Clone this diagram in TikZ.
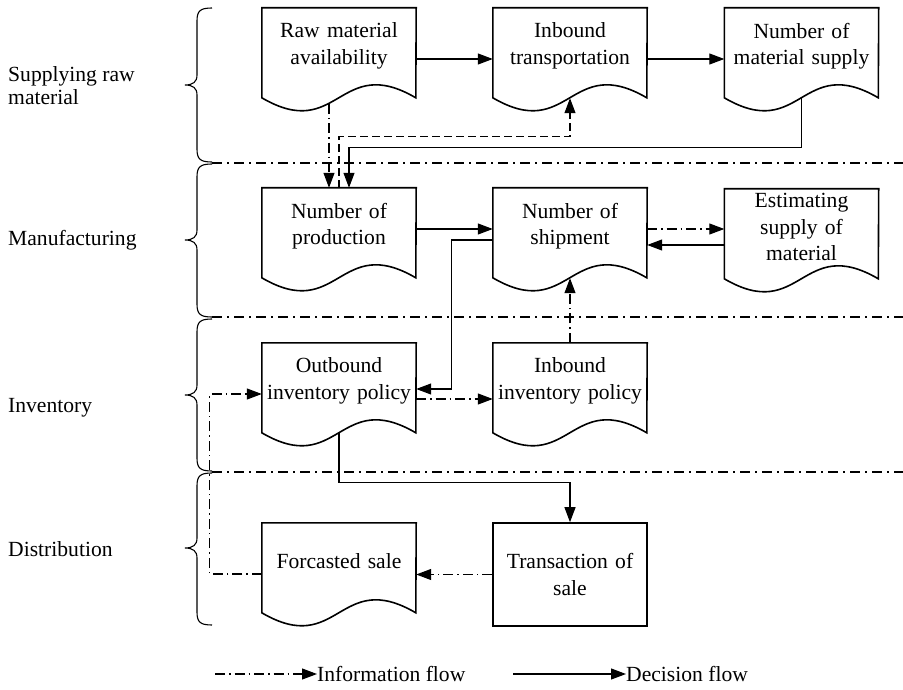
\documentclass[tikz,border=0pt]{standalone}
\usepackage{fontspec}
\setmainfont{Liberation Serif}
\usetikzlibrary{arrows.meta,calc}
\begin{document}
\begin{tikzpicture}[x=1pt,y=-1pt,
  font=\fontsize{21.6}{26.5}\selectfont,
  doc/.style={minimum width=154pt, minimum height=76pt, inner xsep=2pt, inner ysep=0pt,
    text width=150pt, align=center},
  docline/.style={line width=1.6pt, line join=miter},
  plainbox/.style={draw, line width=1.6pt, minimum width=154pt, minimum height=103pt,
    inner xsep=2pt, inner ysep=0pt, text width=150pt, align=center},
  lane/.style={anchor=west, align=left, inner sep=0pt, font=\fontsize{21.6}{23}\selectfont},
  flowtip/.style={-{Triangle[length=15pt,width=11pt]}},
  decflow/.style={flowtip, line width=1.1pt},
  infoflow/.style={flowtip, line width=1.1pt, dash pattern=on 10pt off 4pt on 1.5pt off 4pt},
  dashflow/.style={flowtip, line width=1.1pt, dash pattern=on 8pt off 4pt},
  lanesep/.style={line width=1.1pt, dash pattern=on 10pt off 5pt on 2pt off 5pt},
  bracestyle/.style={line width=1.1pt},
  legend/.style={anchor=west, inner sep=0pt}
]
\fill[white] (0,0) rectangle (903,690);
\useasboundingbox (0,0) rectangle (903,690);

% lane separators
\foreach \yy in {163,317,472}
  \draw[lanesep] (212,\yy) -- (903,\yy);

% lane braces: top, middle, bottom
\foreach \t/\m/\b in {8/85/162, 164/240/317, 319/395/471, 473/548/625}
  \draw[bracestyle] (212,\t) .. controls (200,\t) and (197,\t+3) .. (197,\t+13)
    -- (197,\m-10) .. controls (197,\m-3) and (193,\m) .. (185,\m)
    .. controls (193,\m) and (197,\m+3) .. (197,\m+10)
    -- (197,\b-13) .. controls (197,\b-3) and (200,\b) .. (212,\b);

% lane labels
\node[lane] (l1) at (8,86) {Supplying raw\\material};
\node[lane] (l2) at (8,240) {Manufacturing};
\node[lane] (l3) at (8,408) {Inventory};
\node[lane] (l4) at (8,549) {Distribution};

% document boxes
\node[doc] (raw)    at (339,46)    {Raw material\\availability};
\node[doc] (intr)   at (570,46)    {Inbound\\transportation};
\node[doc] (nms)    at (801.5,46)  {Number of\\material supply};
\node[doc] (prod)   at (339,226)   {Number of\\production};
\node[doc] (ship)   at (570,226)   {Number of\\shipment};
\node[doc] (est)    at (801.5,227) {Estimating\\supply of\\material};
\node[doc] (outb)   at (339,381)   {Outbound\\inventory policy};
\node[doc] (inbinv) at (570,381)   {Inbound\\inventory policy};
\node[doc] (fcs)    at (339,561)   {Forcasted sale};
\node[plainbox] (trans) at (570,574.5) {Transaction of\\sale};

% document outlines with wavy bottom
\foreach \n in {raw,intr,nms,prod,ship,est,outb,inbinv,fcs}
  \draw[docline] (\n.north west) -- ($(\n.north west)+(0,90)$)
    .. controls ($(\n.north west)+(77,135)$) and ($(\n.north west)+(77,45)$)
    .. ($(\n.north west)+(154,90)$) -- (\n.north east) -- cycle;

% supplying raw material
\draw[decflow] ([yshift=-13pt]raw.east) -- ([yshift=-13pt]intr.west);
\draw[decflow] ([yshift=-13pt]intr.east) -- ([yshift=-13pt]nms.west);
\draw[decflow] ([yshift=-14pt]nms.south) -- ++(0,49) -| ([xshift=10pt]prod.north);
\draw[infoflow] ([xshift=-10pt,yshift=-19.5pt]raw.south) -- ([xshift=-10pt]prod.north);
\draw[dashflow] (prod.north) -- ++(0,-51) -| ([yshift=-14pt]intr.south);

% manufacturing
\draw[decflow] ([yshift=-3pt]prod.east) -- ([yshift=-3pt]ship.west);
\draw[infoflow] ([yshift=-3pt]ship.east) -- ([yshift=-2pt]est.west);
\draw[decflow] ([yshift=-18pt]est.west) -- ([yshift=-19pt]ship.east);
\draw[decflow] ([yshift=-14pt]ship.west) -- ++(-41,0) |- ([yshift=-8pt]outb.east);

% inventory
\draw[infoflow] ([yshift=-18pt]outb.east) -- ([yshift=-18pt]inbinv.west);
\draw[infoflow] (inbinv.north) -- ([yshift=-14pt]ship.south);
\draw[decflow] ([yshift=-14pt]outb.south) -- ++(0,49) -| (trans.north);

% distribution
\draw[infoflow] (trans.west) -- (trans.west -| fcs.east);
\draw[infoflow] ([yshift=-13pt]fcs.west) -- ++(-52,0) |- ([yshift=-13pt]outb.west);

% legend
\coordinate (infostart) at (215,674);
\node[legend] (infolabel) at (317,674) {Information flow};
\draw[infoflow] (infostart) -- (infolabel.west);
\coordinate (decstart) at (513,674);
\node[legend] (declabel) at (626,674) {Decision flow};
\draw[decflow] (decstart) -- (declabel.west);
\end{tikzpicture}
\end{document}
